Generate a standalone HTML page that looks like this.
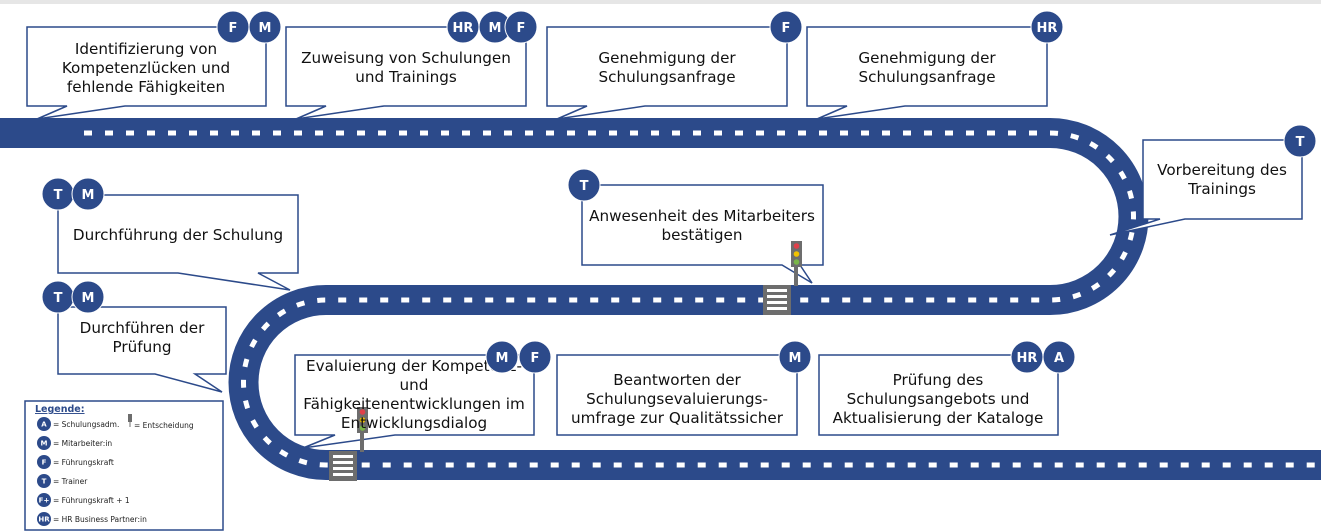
<!DOCTYPE html>
<html><head><meta charset="utf-8"><style>
html,body{margin:0;padding:0;background:#fff;}
svg{display:block;}
text{font-family:"DejaVu Sans","Liberation Sans",sans-serif;}
</style></head><body>
<svg width="1321" height="532" viewBox="0 0 1321 532" xmlns="http://www.w3.org/2000/svg">
<rect x="0" y="0" width="1321" height="4" fill="#e6e6e6"/>
<path d="M0 133 H1050 A83.5 83.5 0 0 1 1050 300 H326 A82.5 82.5 0 0 0 326 465 H1321" fill="none" stroke="#2c4a8a" stroke-width="30"/>
<path d="M84 133 H1050 A83.5 83.5 0 0 1 1050 300 H326 A82.5 82.5 0 0 0 326 465 H1321" fill="none" stroke="#fff" stroke-width="5" stroke-dasharray="8 13"/>
<g>
<rect x="763" y="285" width="28" height="30" fill="#6d6d6d"/>
<rect x="767" y="289" width="20" height="3" fill="#fff"/><rect x="767" y="295" width="20" height="3" fill="#fff"/><rect x="767" y="301" width="20" height="3" fill="#fff"/><rect x="767" y="307" width="20" height="3" fill="#fff"/>
<rect x="329" y="451" width="28" height="30" fill="#6d6d6d"/>
<rect x="333" y="455" width="20" height="3" fill="#fff"/><rect x="333" y="461" width="20" height="3" fill="#fff"/><rect x="333" y="467" width="20" height="3" fill="#fff"/><rect x="333" y="473" width="20" height="3" fill="#fff"/>
</g>
<g fill="none" stroke="#2c4a8a" stroke-width="1.5">
<path d="M27 27 H266 V106 H125 L37 119 L67 106 H27 Z" fill="#fff"/>
<path d="M286 27 H526 V106 H384 L296 119 L326 106 H286 Z" fill="#fff"/>
<path d="M547 27 H787 V106 H645 L557 119 L587 106 H547 Z" fill="#fff"/>
<path d="M807 27 H1047 V106 H905 L817 119 L847 106 H807 Z" fill="#fff"/>
<path d="M1143 140 H1302 V219 H1185 L1110 235 L1160 219 H1143 Z" fill="#fff"/>
<path d="M582 185 H823 V265 H800 L812 283 L782 265 H582 Z" fill="#fff"/>
<path d="M58 195 H298 V273 H258 L290 290 L178 273 H58 Z" fill="#fff"/>
<path d="M58 307 H226 V374 H195 L222 392 L155 374 H58 Z" fill="#fff"/>
<path d="M295 355 H534 V435 H395 L303 448 L335 435 H295 Z" fill="#fff"/>
<rect x="557" y="355" width="240" height="80" fill="#fff"/>
<rect x="819" y="355" width="239" height="80" fill="#fff"/>
<rect x="25" y="401" width="198" height="129" fill="#fff"/>
</g>
<g>
<rect x="794" y="264" width="4" height="22" fill="#6d6d6d"/>
<rect x="791" y="241" width="11" height="26" fill="#6d6d6d"/>
<circle cx="796.5" cy="246" r="2.8" fill="#e0404a"/><circle cx="796.5" cy="254" r="2.8" fill="#f2c200"/><circle cx="796.5" cy="262" r="2.8" fill="#7ab648"/>
<rect x="360" y="430" width="4" height="22" fill="#6d6d6d"/>
<rect x="357" y="407" width="11" height="26" fill="#6d6d6d"/>
<circle cx="362.5" cy="412" r="2.8" fill="#e0404a"/><circle cx="362.5" cy="420" r="2.8" fill="#f2c200"/><circle cx="362.5" cy="428" r="2.8" fill="#7ab648"/>
</g>
<g font-size="15.2" fill="#111" text-anchor="middle">
<text x="146" y="54">Identifizierung von</text>
<text x="146" y="73">Kompetenzlücken und</text>
<text x="146" y="92">fehlende Fähigkeiten</text>
<text x="406" y="63">Zuweisung von Schulungen</text>
<text x="406" y="82">und Trainings</text>
<text x="667" y="63">Genehmigung der</text>
<text x="667" y="82">Schulungsanfrage</text>
<text x="927" y="63">Genehmigung der</text>
<text x="927" y="82">Schulungsanfrage</text>
<text x="1222" y="175">Vorbereitung des</text>
<text x="1222" y="194">Trainings</text>
<text x="702" y="221">Anwesenheit des Mitarbeiters</text>
<text x="702" y="240">bestätigen</text>
<text x="178" y="240">Durchführung der Schulung</text>
<text x="142" y="333">Durchführen der</text>
<text x="142" y="352">Prüfung</text>
<text x="414" y="371">Evaluierung der Kompetenz-</text>
<text x="414" y="390">und</text>
<text x="414" y="409">Fähigkeitenentwicklungen im</text>
<text x="414" y="428">Entwicklungsdialog</text>
<text x="677" y="385">Beantworten der</text>
<text x="677" y="404">Schulungsevaluierungs-</text>
<text x="677" y="423">umfrage zur Qualitätssicher</text>
<text x="938" y="385">Prüfung des</text>
<text x="938" y="404">Schulungsangebots und</text>
<text x="938" y="423">Aktualisierung der Kataloge</text>
</g>
<g fill="#2c4a8a" stroke="#fff" stroke-width="1">
<circle cx="233" cy="27" r="16"/><circle cx="265" cy="27" r="16"/>
<circle cx="463" cy="27" r="16"/><circle cx="495" cy="27" r="16"/><circle cx="521" cy="27" r="16"/>
<circle cx="786" cy="27" r="16"/>
<circle cx="1047" cy="27" r="16"/>
<circle cx="1300" cy="141" r="16"/>
<circle cx="584" cy="185" r="16"/>
<circle cx="58" cy="194" r="16"/><circle cx="88" cy="194" r="16"/>
<circle cx="58" cy="297" r="16"/><circle cx="88" cy="297" r="16"/>
<circle cx="502" cy="357" r="16"/><circle cx="535" cy="357" r="16"/>
<circle cx="795" cy="357" r="16"/>
<circle cx="1027" cy="357" r="16"/><circle cx="1059" cy="357" r="16"/>
</g>
<g fill="#fff" font-size="13" font-weight="bold" text-anchor="middle">
<text x="233" y="32">F</text><text x="265" y="32">M</text>
<text x="463" y="32">HR</text><text x="495" y="32">M</text><text x="521" y="32">F</text>
<text x="786" y="32">F</text>
<text x="1047" y="32">HR</text>
<text x="1300" y="146">T</text>
<text x="584" y="190">T</text>
<text x="58" y="199">T</text><text x="88" y="199">M</text>
<text x="58" y="302">T</text><text x="88" y="302">M</text>
<text x="502" y="362">M</text><text x="535" y="362">F</text>
<text x="795" y="362">M</text>
<text x="1027" y="362">HR</text><text x="1059" y="362">A</text>
</g>
<text x="35" y="412" font-size="9.5" font-weight="bold" fill="#2c4a8a" text-decoration="underline">Legende:</text>
<g fill="#2c4a8a">
<circle cx="44" cy="424" r="7"/><circle cx="44" cy="443" r="7"/><circle cx="44" cy="462" r="7"/>
<circle cx="44" cy="481" r="7"/><circle cx="44" cy="500" r="7"/><circle cx="44" cy="519" r="7"/>
</g>
<g fill="#fff" font-size="7" font-weight="bold" text-anchor="middle">
<text x="44" y="426.5">A</text><text x="44" y="445.5">M</text><text x="44" y="464.5">F</text>
<text x="44" y="483.5">T</text><text x="44" y="502.5">F+</text><text x="44" y="521.5">HR</text>
</g>
<rect x="128" y="414" width="4" height="8" fill="#6d6d6d"/><rect x="129.5" y="421" width="1" height="6" fill="#6d6d6d"/>
<g font-size="7.5" fill="#222">
<text x="53" y="427">= Schulungsadm.</text><text x="134" y="428">= Entscheidung</text>
<text x="53" y="446">= Mitarbeiter:in</text>
<text x="53" y="465">= Führungskraft</text>
<text x="53" y="484">= Trainer</text>
<text x="53" y="503">= Führungskraft + 1</text>
<text x="53" y="522">= HR Business Partner:in</text>
</g>
</svg>
</body></html>
